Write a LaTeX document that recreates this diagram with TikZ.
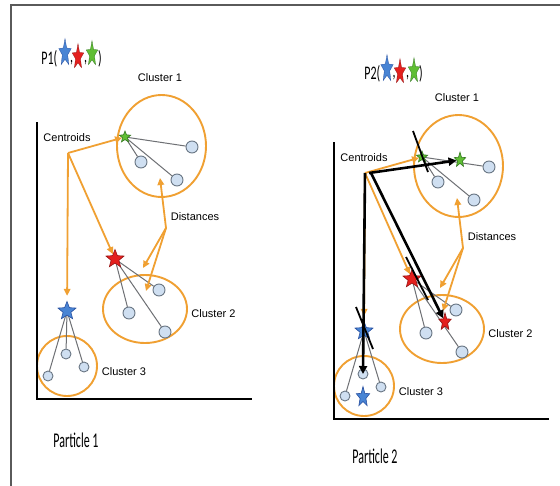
\documentclass[tikz,border=0pt]{standalone}
\usepackage{fontspec}
\setmainfont{Liberation Sans}
\newfontfamily\calib{Carlito}
\usetikzlibrary{shapes.geometric,arrows.meta}
\definecolor{orng}{RGB}{240,160,50}
\definecolor{ptfill}{RGB}{207,223,241}
\definecolor{ptdraw}{RGB}{105,118,132}
\definecolor{linkgray}{RGB}{110,112,116}
\definecolor{sblue}{RGB}{72,132,212}
\definecolor{sbluedk}{RGB}{40,80,160}
\definecolor{sred}{RGB}{228,32,30}
\definecolor{sreddk}{RGB}{150,20,20}
\definecolor{sgreen}{RGB}{96,190,52}
\definecolor{sgreendk}{RGB}{50,120,30}
\definecolor{framegray}{RGB}{90,90,90}
\newcommand{\drawpanel}{%
  % clusters
  \node[cluster, minimum width=89, minimum height=102] (c1) at (161.5,146) {};
  \node[cluster, minimum width=84, minimum height=68] (c2) at (145,309) {};
  \node[cluster, minimum width=60, minimum height=60] (c3) at (67,366) {};
  % points
  \node[pt] (p11) at (192,147) {};
  \node[pt] (p12) at (141,162) {};
  \node[pt] (p13) at (177,180) {};
  \node[pt] (p21) at (159,290) {};
  \node[pt] (p22) at (129,313) {};
  \node[pt] (p23) at (165,332) {};
  \node[pt, minimum size=10] (p31) at (66,354) {};
  \node[pt, minimum size=10] (p32) at (84,367) {};
  \node[pt, minimum size=10] (p33) at (48,376) {};
  % star positions and links
  \coordinate (gc) at (125,137);
  \coordinate (rc) at (115,259);
  \coordinate (bc) at (67,311);
  \draw[link] (gc) -- (p11);
  \draw[link] (gc) -- (p12);
  \draw[link] (gc) -- (p13);
  \draw[link] (rc) -- (p21);
  \draw[link] (rc) -- (p22);
  \draw[link] (rc) -- (p23);
  \draw[link] (bc) -- (p31);
  \draw[link] (bc) -- (p32);
  \draw[link] (bc) -- (p33);
  \node[gstar, minimum size=12] (g) at (gc) {};
  \node[rstar, minimum size=19] (r) at (rc) {};
  \node[bstar, minimum size=19] (b) at (bc) {};
  % labels
  \node[lbl] (lc1) at (160,78) {Cluster 1};
  \node[lbl] (lc2) at (213.5,314) {Cluster 2};
  \node[lbl] (lc3) at (124,372) {Cluster 3};
  \node[lbl] (lcen) at (67,138) {Centroids};
  \node[lbl] (ldist) at (195,217) {Distances};
  % orange arrows
  \coordinate (S) at (68,153);
  \draw[oarrow] (S) -- (g);
  \draw[oarrow] (S) -- (r);
  \draw[oarrow, shorten >=5pt] (S) -- (b);
  \coordinate (D) at (166,228);
  \coordinate (d1) at (160,178);
  \coordinate (d2) at (143,268);
  \coordinate (d3) at (146,291);
  \draw[oarrow] (D) -- (d1);
  \draw[oarrow] (D) -- (d2);
  \draw[oarrow] (D) -- (d3);
  % axes
  \coordinate (Ytop) at (37,122);
  \coordinate (O) at (37,399);
  \coordinate (Xend) at (252,399);
  \draw[axisline] (Ytop) -- (O) -- (Xend);
}
\begin{document}
\begin{tikzpicture}[x=1pt,y=-1pt,
  cluster/.style={ellipse, draw=orng, line width=1.9, inner sep=0},
  pt/.style={circle, draw=ptdraw, fill=ptfill, line width=0.9, minimum size=12, inner sep=0},
  link/.style={draw=linkgray, line width=1},
  starbase/.style={star, star points=5, star point ratio=2.3, inner sep=0, line width=0.6},
  gstar/.style={starbase, fill=sgreen, draw=sgreendk},
  rstar/.style={starbase, fill=sred, draw=sreddk},
  bstar/.style={starbase, fill=sblue, draw=sbluedk},
  tstar/.style={yscale=2.2, transform shape, line width=0.3},
  lbl/.style={inner sep=0, font=\fontsize{11}{12}\selectfont},
  ttl/.style={inner sep=0, font=\calib\fontsize{12}{14}\selectfont},
  oarrow/.style={draw=orng, line width=1.8, -{Triangle[length=7,width=6.5]}},
  karrow/.style={draw=black, line width=2.6, -{Triangle[length=8,width=8]}},
  kcross/.style={draw=black, line width=1.8},
  axisline/.style={draw=black, line width=2.4},
  frameline/.style={draw=framegray, line width=1.4}]
\useasboundingbox (0,0) rectangle (560,485);
\fill[white] (0,0) rectangle (560,485);
\coordinate (f1) at (11,486);
\coordinate (f2) at (11,5);
\coordinate (f3) at (561,5);
\draw[frameline] (f1) -- (f2) -- (f3);
% panels
\begin{scope}[name prefix=l-]
  \drawpanel
\end{scope}
\begin{scope}[shift={(297,20)}, name prefix=r-]
  \drawpanel
\end{scope}
% particle 2 updates
\node[gstar, minimum size=12, yscale=1.3, transform shape] (ng) at (460,160) {};
\node[rstar, minimum size=13, yscale=1.4, transform shape] (nr) at (445,322) {};
\node[bstar, minimum size=14, yscale=1.5, transform shape] (nb) at (363,397) {};
\coordinate (S2a) at (369,173);
\coordinate (S2b) at (371,173);
\draw[karrow] (S2a) -- (ng);
\draw[karrow] (S2b) -- (nr);
\draw[karrow] (r-S) -- (r-p31.center);
\coordinate (xg1) at (413,131);
\coordinate (xg2) at (428,172);
\coordinate (xr1) at (406,257);
\coordinate (xr2) at (428,300);
\coordinate (xb1) at (356,307);
\coordinate (xb2) at (373,349);
\draw[kcross] (xg1) -- (xg2);
\draw[kcross] (xr1) -- (xr2);
\draw[kcross] (xb1) -- (xb2);
% titles
\node[ttl, anchor=east] (t1) at (57.5,59) {\scalebox{1}[1.6]{P1(}};
\node[bstar, minimum size=13, tstar] (t1b) at (65,53) {};
\node[ttl] (t1c1) at (71.5,63) {\scalebox{1}[1.6]{,}};
\node[rstar, minimum size=12, tstar] (t1r) at (78,57) {};
\node[ttl] (t1c2) at (85.5,63) {\scalebox{1}[1.6]{,}};
\node[gstar, minimum size=12, tstar] (t1g) at (92,54) {};
\node[ttl] (t1e) at (100,59) {\scalebox{1}[1.6]{)}};
\node[ttl, anchor=east] (t2) at (380.5,74) {\scalebox{1}[1.6]{P2(}};
\node[bstar, minimum size=13, tstar] (t2b) at (387,69) {};
\node[ttl] (t2c1) at (394,78) {\scalebox{1}[1.6]{,}};
\node[rstar, minimum size=12, tstar] (t2r) at (400,72) {};
\node[ttl] (t2c2) at (407.5,78) {\scalebox{1}[1.6]{,}};
\node[gstar, minimum size=12, tstar] (t2g) at (414,71) {};
\node[ttl] (t2e) at (421,74) {\scalebox{1}[1.6]{)}};
% particle labels
\node[ttl] (pl1) at (76,440) {\scalebox{1}[1.75]{Particle 1}};
\node[ttl] (pl2) at (375,456) {\scalebox{1}[1.75]{Particle 2}};
\end{tikzpicture}
\end{document}
